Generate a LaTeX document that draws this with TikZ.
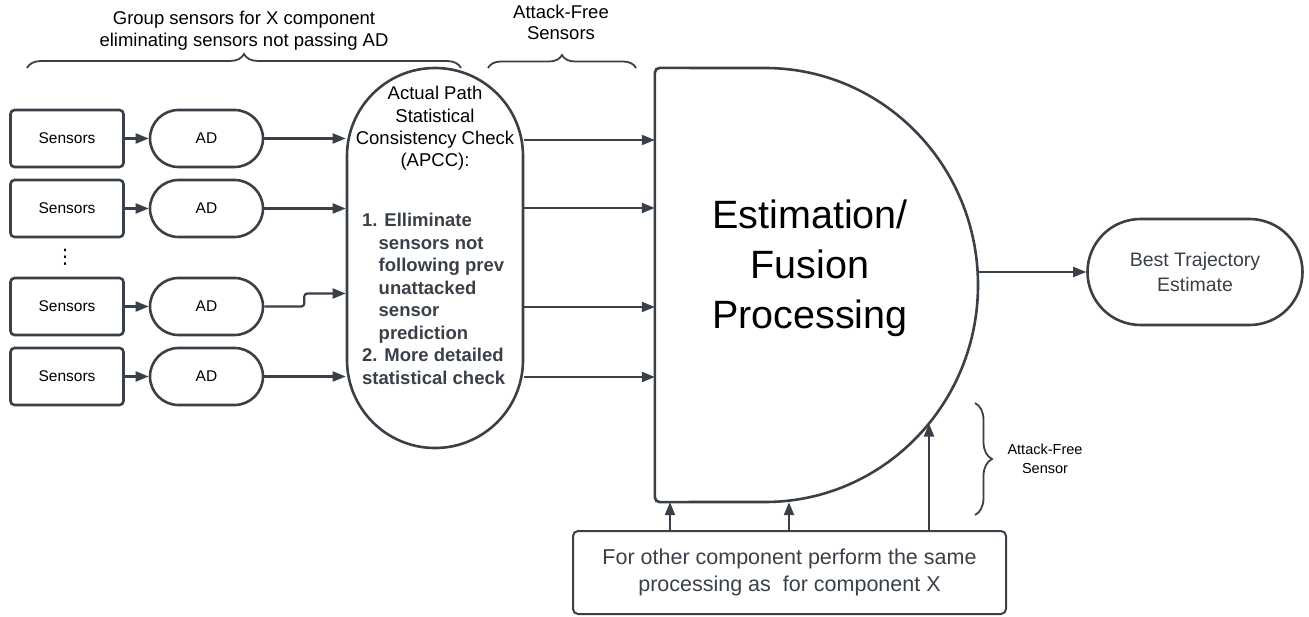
\documentclass[tikz,border=0pt]{standalone}
\usepackage{fontspec}
\setmainfont{Liberation Sans}
\newfontfamily\dejavu{DejaVu Sans}
\usetikzlibrary{arrows.meta,decorations.pathreplacing,intersections,calc}
\definecolor{lc}{RGB}{58,64,72}
\definecolor{tg}{RGB}{58,64,72}
\begin{document}
\begin{tikzpicture}[x=1pt,y=-1pt,
  outl/.style={draw=lc,line width=2.6pt},
  sbox/.style={outl,rounded corners=4pt,minimum width=113pt,minimum height=57pt,inner sep=0pt,font=\fontsize{15.5}{18}\selectfont},
  adbox/.style={outl,rounded corners=28.5pt,minimum width=113pt,minimum height=57pt,inner sep=0pt,font=\fontsize{15.5}{18}\selectfont},
  arr/.style={draw=lc,line width=2.2pt,-{Triangle[length=13pt,width=10pt]}},
  brc/.style={draw=lc,line width=1.8pt,decorate,decoration={brace,amplitude=#1}},
  brc/.default=14pt,
  lbl/.style={align=center,inner sep=0pt,font=\fontsize{18.5}{22}\selectfont},
  ]
\useasboundingbox (0,0) rectangle (1309,617);

% top labels and braces
\node[lbl] (lblgroup) at (244,31) {Group sensors for X component\\eliminating sensors not passing AD};
\node[lbl,font=\fontsize{18.5}{21.5}\selectfont] (lblfree) at (561,22.5) {Attack-Free\\Sensors};
\draw[brc=14pt] (27,68) -- (461,68);
\draw[brc=13pt] (488,68) -- (636,68);

% sensors and AD
\node[sbox] (s1) at (67,138.5) {Sensors};
\node[sbox] (s2) at (67,208.5) {Sensors};
\node[sbox] (s3) at (67,306.5) {Sensors};
\node[sbox] (s4) at (67,376.5) {Sensors};
\node[font=\dejavu\fontsize{20}{20}\selectfont] (dots) at (65,257) {⋮};
\node[adbox] (ad1) at (206.5,138.5) {AD};
\node[adbox] (ad2) at (206.5,208.5) {AD};
\node[adbox] (ad3) at (206.5,306.5) {AD};
\node[adbox] (ad4) at (206.5,376.5) {AD};
\foreach \i in {1,...,4} \draw[arr] (s\i.east) -- (ad\i.west);

% APCC
\node[outl,rounded corners=88pt,minimum width=176pt,minimum height=380pt,inner sep=0pt] (apcc) at (435,258) {};
\node[lbl,font=\fontsize{18.5}{22.3}\selectfont] (apcch) at (435,128.5) {Actual Path\\Statistical\\Consistency Check\\(APCC):};
\node[align=left,inner sep=0pt,anchor=west,text=tg,font=\bfseries\fontsize{18.5}{22.5}\selectfont] (apccl) at (362,299)
 {1. Elliminate\\\hspace*{16.5pt}sensors not\\\hspace*{16.5pt}following prev\\\hspace*{16.5pt}unattacked\\\hspace*{16.5pt}sensor\\\hspace*{16.5pt}prediction\\2. More detailed\\statistical check};

\draw[arr] (ad1.east) -- (apcc.west |- ad1.east);
\draw[arr] (ad2.east) -- (apcc.west |- ad2.east);
\draw[arr,rounded corners=3pt] (ad3.east) -- ++(40pt,0pt) |- ($(apcc.west |- ad3.east)+(0,-13)$);
\draw[arr] (ad4.east) -- (apcc.west |- ad4.east);

% Estimation / Fusion
\node[minimum width=323pt,minimum height=434pt,inner sep=0pt] (est) at (816.5,285) {};
\draw[outl,name path=estp] (700,68) [rounded corners=5pt] -- (est.north west) -- (est.south west) -- (700,502) [sharp corners] -- (765,502) arc[start angle=-90,end angle=90,x radius=213pt,y radius=217pt] -- cycle;
\node[align=center,inner sep=0pt,font=\fontsize{39.5}{50}\selectfont] (esttxt) at (810,268) {Estimation/\\Fusion\\Processing};

\foreach \yy in {140,208,307,377} \draw[arr] (apcc.east |- 0,\yy) -- (est.west |- 0,\yy);

% output
\node[outl,rounded corners=53pt,minimum width=215pt,minimum height=106pt,align=center,text=tg,font=\fontsize{19.5}{25}\selectfont] (best) at (1195,272) {Best Trajectory\\Estimate};
\coordinate (eout) at (977.6,272);
\draw[arr] (eout) -- (best.west);

% bottom box
\node[draw=lc,line width=2pt,rounded corners=5pt,minimum width=433pt,minimum height=83pt,align=center,text=tg,font=\fontsize{21.5}{27}\selectfont] (bot) at (789.5,572.5) {For other component perform the same\\processing as~ for component X};
\path[name path=vl] (929,531) -- (929,300);
\path[name intersections={of=estp and vl,by=e3}];
\draw[arr] (bot.north -| 670,0) -- (est.south -| 670,0);
\draw[arr] (bot.north -| 789,0) -- (est.south -| 789,0);
\draw[arr] (bot.north -| e3) -- (e3);

% right brace
\draw[brc=17pt] (975,403) -- (975,515);
\node[align=center,inner sep=0pt,font=\fontsize{14.5}{19}\selectfont] (lblsensor) at (1045,458.5) {Attack-Free\\Sensor};
\end{tikzpicture}
\end{document}
